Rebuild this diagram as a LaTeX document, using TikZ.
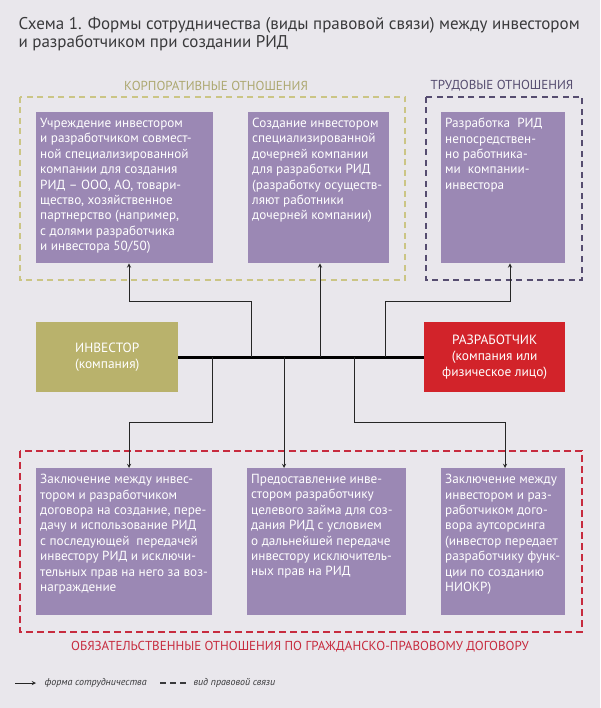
\documentclass[tikz,border=0pt]{standalone}
\usepackage{fontspec}
\setmainfont{PT Sans}
\usetikzlibrary{positioning, arrows, calc}
\definecolor{bgfill}{HTML}{E9E7EC}
\definecolor{formfill}{HTML}{9B88B4}
\definecolor{investorfill}{HTML}{B9B26C}
\definecolor{developerfill}{HTML}{D2232A}
\definecolor{corpline}{HTML}{CBC585}
\definecolor{labourline}{HTML}{564D70}
\definecolor{civilline}{HTML}{C72B3E}
\definecolor{titletext}{HTML}{3A3A3C}
\tikzstyle{formbox}=[fill=formfill, anchor=north west, inner sep=0pt]
\tikzstyle{boxtext}=[anchor=north west, text=white, align=left, inner sep=0pt,
  font=\fontsize{13.2}{15.4}\selectfont]
\tikzstyle{partyBox}=[anchor=north west, text=white, align=center, inner sep=0pt,
  minimum width=142pt, minimum height=70pt, font=\fontsize{13.4}{15.6}\selectfont]
\tikzstyle{groupLabel}=[font=\fontsize{13}{14}\selectfont]
\tikzstyle{legendText}=[anchor=west, font=\fontsize{10}{11}\selectfont\itshape, text=titletext]
\tikzstyle{arrow}=[->, >=stealth, line width=0.9pt, draw=black!85]
\tikzstyle{mainLine}=[line width=3pt]
\tikzstyle{groupFrame}=[line width=1.2pt, dash pattern=on 6pt off 4.5pt]

\begin{document}
\begin{tikzpicture}[x=1pt, y=-1pt]
      \fill[bgfill] (0,0) rectangle (600,708);
      \useasboundingbox (0,0) rectangle (600,708);

      \node[anchor=north west, align=left, text=titletext,
        font=\fontsize{17}{18}\selectfont] (title) at (15,14)
        {Схема 1. Формы сотрудничества (виды правовой связи) между инвестором\\
         и разработчиком при создании РИД};

      % group frames
      \draw[groupFrame, corpline] (20,97) rectangle (405,280);
      \draw[groupFrame, labourline] (426,97) rectangle (582,280);
      \draw[groupFrame, civilline, line width=1.6pt, dash pattern=on 7pt off 4pt]
        (20,451) rectangle (582,632);
      \node[groupLabel, text=corpline!85!black] (corpLabel) at (216,86)
        {КОРПОРАТИВНЫЕ ОТНОШЕНИЯ};
      \node[groupLabel, text=labourline] (labourLabel) at (502,86)
        {ТРУДОВЫЕ ОТНОШЕНИЯ};
      \node[groupLabel, text=civilline] (civilLabel) at (300,647)
        {ОБЯЗАТЕЛЬСТВЕННЫЕ ОТНОШЕНИЯ ПО ГРАЖДАНСКО-ПРАВОВОМУ ДОГОВОРУ};

      % forms of cooperation
      \node[formbox, minimum width=177pt, minimum height=151pt] (box1) at (36,112) {};
      \node[formbox, minimum width=141pt, minimum height=151pt] (box2) at (248,112) {};
      \node[formbox, minimum width=124pt, minimum height=151pt] (box3) at (441,112) {};
      \node[formbox, minimum width=176pt, minimum height=147pt] (box4) at (36,468) {};
      \node[formbox, minimum width=159pt, minimum height=147pt] (box5) at (247,468) {};
      \node[formbox, minimum width=124pt, minimum height=147pt] (box6) at (441,468) {};

      \node[boxtext] (text1) at ($(box1.north west)+(4,6)$)
        {Учреждение инвестором\\и разработчиком совмест-\\ной специализированной\\
         компании для создания\\РИД – ООО, АО, товари-\\щество, хозяйственное\\
         партнерство (например,\\с долями разработчика\\и инвестора 50/50)};
      \node[boxtext] (text2) at ($(box2.north west)+(4,6)$)
        {Создание инвестором\\специализированной\\дочерней компании\\
         для разработки РИД\\(разработку осуществ-\\ляют работники\\
         дочерней компании)};
      \node[boxtext] (text3) at ($(box3.north west)+(4,6)$)
        {Разработка~ РИД\\непосредствен-\\но работника-\\ми~ компании-\\инвестора};
      \node[boxtext] (text4) at ($(box4.north west)+(4,6)$)
        {Заключение между инвес-\\тором и разработчиком\\договора на создание, пере-\\
         дачу и использование РИД\\с последующей~ передачей\\инвестору РИД и исключи-\\
         тельных прав на него за воз-\\награждение};
      \node[boxtext] (text5) at ($(box5.north west)+(4,6)$)
        {Предоставление инве-\\стором разработчику\\целевого займа для соз-\\
         дания РИД с условием\\о дальнейшей передаче\\инвестору исключитель-\\
         ных прав на РИД};
      \node[boxtext] (text6) at ($(box6.north west)+(4,6)$)
        {Заключение между\\инвестором и раз-\\работчиком дого-\\вора аутсорсинга\\
         (инвестор передает\\разработчику функ-\\ции по созданию\\НИОКР)};

      % parties
      \node[partyBox, fill=investorfill] (investor) at (36,322)
        {ИНВЕСТОР\\(компания)};
      \node[partyBox, fill=developerfill, minimum width=141pt] (developer) at (424,322)
        {РАЗРАБОТЧИК\\(компания или\\физическое лицо)};
      \draw[mainLine] (investor.east) -- (developer.west);

      \foreach \n/\x in {1/251, 2/320, 3/385, 4/212, 5/284, 6/354}{
        \coordinate (j\n) at (\x,357);
      }
      \coordinate (k1) at (129,301);
      \coordinate (k3) at (510,301);
      \coordinate (k4) at (129,422);
      \coordinate (k6) at (505,422);

      \draw[arrow] (j1) |- (k1) -- (k1 |- box1.south);
      \draw[arrow] (j2) -- (j2 |- box2.south);
      \draw[arrow] (j3) |- (k3) -- (k3 |- box3.south);
      \draw[arrow] (j4) |- (k4) -- (k4 |- box4.north);
      \draw[arrow] (j5) -- (j5 |- box5.north);
      \draw[arrow] (j6) |- (k6) -- (k6 |- box6.north);

      % legend
      \coordinate (legArrowA) at (15,683);
      \coordinate (legArrowB) at (36,683);
      \coordinate (legDashA) at (160,683);
      \coordinate (legDashB) at (186,683);
      \draw[arrow] (legArrowA) -- (legArrowB);
      \draw[line width=2pt, dash pattern=on 6pt off 4pt, titletext] (legDashA) -- (legDashB);
      \node[legendText] (legArrowText) at (41,683) {форма сотрудничества};
      \node[legendText] (legDashText) at (190,683) {вид правовой связи};
    \end{tikzpicture}
\end{document}
